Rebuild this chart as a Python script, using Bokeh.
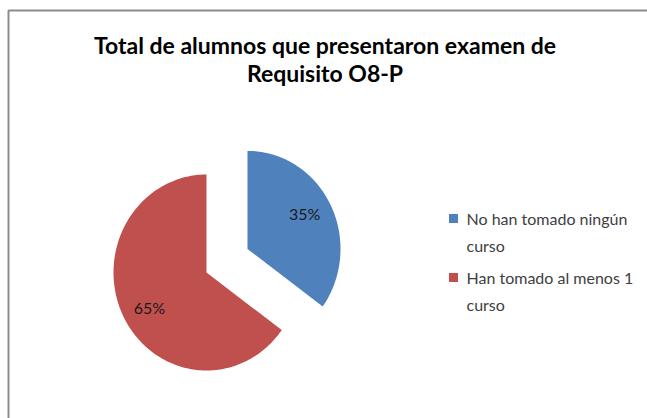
import math
from bokeh.plotting import figure
from bokeh.models import Range1d, ColumnDataSource
from bokeh.core.properties import value
from bokeh.embed import file_html
from bokeh.resources import INLINE

title_lines = ["Total de alumnos que presentaron examen de", "Requisito O8-P"]
categories = ["No han tomado ningún\ncurso", "Han tomado al menos 1\ncurso"]
percents = [35, 65]
colors = ["#4F81BD", "#C0504D"]

W, H = 647, 418
FONT = "Lato"

p = figure(width=W, height=H, output_backend="svg", toolbar_location=None,
           x_range=Range1d(0, W), y_range=Range1d(0, H), min_border=0)
p.axis.visible = False
p.grid.visible = False
p.outline_line_color = None
p.background_fill_color = "white"
p.border_fill_color = "white"

# chart area border (extends past the right/bottom edges)
p.quad(left=[8], right=[W + 20], top=[H - 10], bottom=[-20],
       fill_color=None, line_color="#8c8c8c", line_width=2)

# pie geometry (slightly elliptical, as in the original)
cx, cy = 206, H - 272
rx, ry = 93, 98
ex, ey = 46, 52  # explosion of the first slice
kx, ky = 0.69, 0.79  # label placement factors

total = sum(percents)
pxs, pys, lx, ly = [], [], [], []
cum = 0.0
for i, v in enumerate(percents):
    a0 = cum / total * 2 * math.pi      # clockwise from north
    a1 = (cum + v) / total * 2 * math.pi
    mid = (a0 + a1) / 2
    ox = cx + (ex * math.sin(mid) if i == 0 else 0)
    oy = cy + (ey * math.cos(mid) if i == 0 else 0)
    n = max(8, int(v * 3))
    angs = [a0 + (a1 - a0) * k / n for k in range(n + 1)]
    pxs.append([ox] + [ox + rx * math.sin(a) for a in angs])
    pys.append([oy] + [oy + ry * math.cos(a) for a in angs])
    lx.append(ox + kx * rx * math.sin(mid))
    ly.append(oy + ky * ry * math.cos(mid))
    cum += v

src = ColumnDataSource(dict(xs=pxs, ys=pys, c=colors))
p.patches(xs="xs", ys="ys", fill_color="c", line_color=None, source=src)

p.text(x=lx, y=ly, text=[f"{v}%" for v in percents],
       text_font=value(FONT), text_font_size="16px", text_color="#1a1a1a",
       text_align="center", text_baseline="middle")

# title
p.text(x=[W / 2 + 1, W / 2 + 1], y=[H - 44, H - 72], text=title_lines,
       text_font=value(FONT), text_font_size="23px", text_font_style="bold",
       text_color="#000000", text_align="center", text_baseline="middle")

# legend
leg_x = 453
leg_y = [H - 218, H - 277]
p.rect(x=[leg_x] * 2, y=leg_y, width=9, height=9, fill_color=colors, line_color=None)
p.text(x=[leg_x + 13] * 2, y=[y + 10 for y in leg_y], text=categories,
       text_font=value(FONT), text_font_size="16px", text_color="#404040",
       text_align="left", text_baseline="top", text_line_height=1.45)

open("out.html", "w").write(file_html(p, INLINE))
